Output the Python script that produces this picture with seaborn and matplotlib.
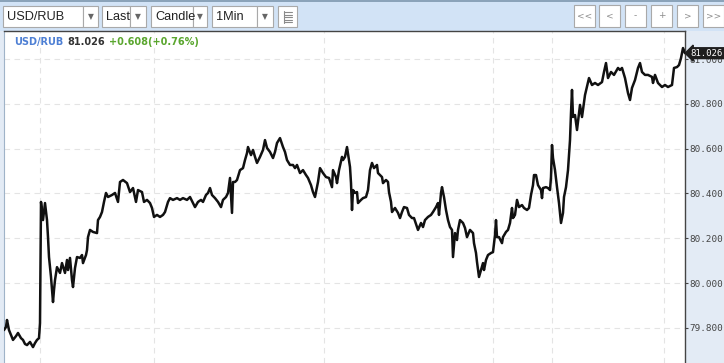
import matplotlib
matplotlib.use("Agg")
import matplotlib.pyplot as plt
import matplotlib.transforms as mtransforms
from matplotlib.patches import Rectangle
from matplotlib.lines import Line2D
import seaborn as sns
import pandas as pd

# ---------------- data ----------------
minute = [0, 2, 3, 5, 7, 9, 12, 14, 17, 19, 21, 23, 26, 29, 31, 33, 35, 36, 37, 39,
          41, 43, 44, 45, 47, 49, 50, 51, 53, 56, 58, 61, 63, 64, 66, 68, 69, 71, 73, 76,
          78, 79, 82, 83, 84, 86, 89, 93, 94, 96, 98, 100, 102, 104, 108, 111, 114, 116, 119, 123,
          126, 129, 132, 134, 138, 140, 143, 146, 148, 150, 153, 156, 159, 161, 164, 166, 169, 173, 176, 179,
          183, 186, 189, 191, 194, 197, 199, 202, 204, 206, 208, 211, 214, 217, 219, 222, 224, 226, 228, 229,
          231, 233, 236, 239, 241, 243, 244, 247, 249, 251, 253, 256, 259, 261, 263, 266, 269, 271, 273, 276,
          279, 281, 283, 286, 289, 291, 293, 296, 299, 302, 304, 307, 309, 311, 313, 314, 316, 319, 322, 325,
          328, 329, 332, 333, 335, 338, 339, 341, 343, 345, 346, 347, 348, 349, 351, 353, 354, 357, 359, 362,
          364, 366, 368, 370, 373, 374, 378, 379, 382, 384, 385, 387, 388, 391, 394, 396, 398, 400, 403, 405,
          408, 410, 413, 414, 417, 419, 421, 424, 427, 429, 432, 434, 435, 437, 438, 440, 442, 444, 446, 448,
          449, 451, 453, 454, 456, 459, 461, 463, 466, 469, 470, 472, 473, 475, 477, 479, 480, 482, 484, 487,
          489, 491, 492, 493, 495, 498, 499, 502, 504, 506, 508, 509, 511, 513, 515, 518, 520, 523, 525, 527,
          529, 530, 532, 534, 537, 538, 539, 542, 544, 546, 547, 548, 549, 551, 553, 555, 557, 559, 560, 562,
          564, 566, 567, 568, 569, 571, 573, 576, 578, 581, 584, 585, 588, 591, 594, 598, 600, 602, 604, 607,
          610, 614, 616, 618, 621, 623, 624, 626, 628, 631, 634, 636, 638, 641, 644, 648, 649, 651, 654, 658,
          661, 664, 668, 670, 673, 675, 677, 679, 681]

price = [79.790, 79.804, 79.835, 79.790, 79.768, 79.746, 79.763, 79.777, 79.754, 79.746,
         79.728, 79.723, 79.737, 79.714, 79.732, 79.746, 79.754, 79.821, 80.362, 80.281,
         80.357, 80.281, 80.205, 80.116, 80.027, 79.915, 79.969, 80.013, 80.071, 80.045,
         80.089, 80.045, 80.103, 80.058, 80.112, 80.013, 79.982, 80.067, 80.116, 80.112,
         80.125, 80.089, 80.125, 80.147, 80.205, 80.237, 80.228, 80.223, 80.281, 80.295,
         80.317, 80.362, 80.402, 80.384, 80.393, 80.402, 80.362, 80.451, 80.460, 80.446,
         80.406, 80.424, 80.362, 80.415, 80.406, 80.362, 80.371, 80.357, 80.335, 80.295,
         80.304, 80.295, 80.304, 80.317, 80.362, 80.379, 80.371, 80.379, 80.371, 80.379,
         80.371, 80.384, 80.357, 80.339, 80.362, 80.371, 80.362, 80.393, 80.402, 80.424,
         80.393, 80.379, 80.362, 80.339, 80.371, 80.384, 80.402, 80.469, 80.313, 80.451,
         80.451, 80.460, 80.504, 80.513, 80.549, 80.580, 80.607, 80.571, 80.594, 80.563,
         80.536, 80.563, 80.594, 80.638, 80.603, 80.585, 80.558, 80.585, 80.625, 80.647,
         80.607, 80.585, 80.549, 80.527, 80.527, 80.513, 80.527, 80.491, 80.504, 80.482,
         80.469, 80.437, 80.406, 80.384, 80.428, 80.451, 80.513, 80.491, 80.473, 80.469,
         80.428, 80.504, 80.473, 80.446, 80.504, 80.563, 80.549, 80.563, 80.607, 80.549,
         80.518, 80.446, 80.326, 80.415, 80.402, 80.406, 80.357, 80.371, 80.379, 80.384,
         80.415, 80.504, 80.536, 80.513, 80.527, 80.491, 80.473, 80.446, 80.460, 80.451,
         80.406, 80.362, 80.317, 80.335, 80.313, 80.290, 80.317, 80.339, 80.335, 80.304,
         80.290, 80.290, 80.250, 80.237, 80.268, 80.250, 80.281, 80.295, 80.304, 80.317,
         80.339, 80.357, 80.304, 80.402, 80.428, 80.384, 80.326, 80.281, 80.250, 80.237,
         80.116, 80.223, 80.192, 80.237, 80.281, 80.268, 80.246, 80.205, 80.237, 80.223,
         80.178, 80.134, 80.094, 80.027, 80.058, 80.089, 80.058, 80.103, 80.125, 80.134,
         80.138, 80.214, 80.281, 80.205, 80.205, 80.178, 80.205, 80.228, 80.237, 80.268,
         80.335, 80.290, 80.304, 80.371, 80.339, 80.348, 80.335, 80.326, 80.335, 80.393,
         80.437, 80.482, 80.482, 80.437, 80.415, 80.379, 80.424, 80.428, 80.424, 80.415,
         80.473, 80.616, 80.558, 80.504, 80.428, 80.357, 80.268, 80.313, 80.384, 80.428,
         80.504, 80.638, 80.759, 80.862, 80.741, 80.750, 80.683, 80.795, 80.741, 80.839,
         80.897, 80.915, 80.884, 80.893, 80.884, 80.897, 80.942, 80.982, 80.915, 80.942,
         80.929, 80.960, 80.951, 80.960, 80.915, 80.871, 80.848, 80.817, 80.871, 80.906,
         80.960, 80.982, 80.942, 80.929, 80.929, 80.920, 80.893, 80.929, 80.893, 80.875,
         80.884, 80.875, 80.884, 80.960, 80.964, 80.973, 81.004, 81.049, 81.026]

y_ticks = [79.8, 80.0, 80.2, 80.4, 80.6, 80.8, 81.0]
v_grid_minutes = [36, 150, 320, 489, 548, 660]
symbol = "USD/RUB"
last_price = "81.026"
change_text = "+0.608(+0.76%)"
toolbar_dropdowns = ["USD/RUB", "Last", "Candle", "1Min"]
nav_buttons = ["<<", "<", "-", "+", ">", ">>"]

# ---------------- figure ----------------
sns.set_theme(style="white")
plt.rcParams["font.family"] = ["DejaVu Sans"]

W, H = 724, 363
fig = plt.figure(figsize=(W / 100, H / 100), dpi=100, facecolor="#e3ebf5")


def fx(x):
    return x / W


def fy(y):
    return 1 - y / H


# toolbar band
fig.add_artist(Rectangle((0, fy(31)), 1, 31 / H, transform=fig.transFigure,
                         facecolor="#d2e3f6", edgecolor="none", zorder=0))
fig.add_artist(Line2D([0, 1], [fy(0.5), fy(0.5)], transform=fig.transFigure,
                      color="#7d97ad", lw=1.2))


def box(x0, x1, y0=6, y1=27, fc="white", ec="#a9a9a9"):
    fig.add_artist(Rectangle((fx(x0), fy(y1)), fx(x1) - fx(x0), (y1 - y0) / H,
                             transform=fig.transFigure, facecolor=fc, edgecolor=ec, lw=0.8))


dd_geom = [(3, 83, 98), (102, 130, 146), (151, 193, 207), (212, 257, 273)]
for label, (a, b, c) in zip(toolbar_dropdowns, dd_geom):
    box(a, b)
    box(b, c)
    fig.text(fx(a + 4), fy(16.5), label, fontsize=9.2, color="#222222",
             family="Liberation Sans", va="center", ha="left")
    fig.text(fx((b + c) / 2), fy(16.5), "\u25bc", fontsize=5.5, color="#666666",
             va="center", ha="center")
# list icon
box(278, 297)
for yy in [12, 14.5, 17, 19.5, 22]:
    fig.add_artist(Line2D([fx(284), fx(292)], [fy(yy), fy(yy)], transform=fig.transFigure,
                          color="#8a8a8a", lw=0.8))
fig.add_artist(Line2D([fx(284), fx(284)], [fy(11), fy(22.5)], transform=fig.transFigure,
                      color="#8a8a8a", lw=0.8))

nav_x = [574, 599, 625, 651, 677, 703]
for label, a in zip(nav_buttons, nav_x):
    box(a, a + 21, 5, 27)
    fig.text(fx(a + 10.5), fy(16), label, fontsize=6.5, color="#8c8c8c",
             va="center", ha="center")

# ---------------- chart panel ----------------
ax = fig.add_axes([fx(4), 0, (685 - 4) / W, 332 / H])
ax.set_facecolor("white")
df = pd.DataFrame({"minute": minute, "price": price})
sns.lineplot(data=df, x="minute", y="price", color="#111111", lw=1.8, ax=ax, zorder=3)

ax.set_xlim(0, 681)
ax.set_ylim(79.643, 81.125)
ax.set_xlabel("")
ax.set_ylabel("")
ax.set_xticks([])
ax.set_yticks(y_ticks)
ax.set_yticklabels([f"{v:.3f}" for v in y_ticks])
ax.yaxis.tick_right()
ax.tick_params(axis="y", direction="out", length=2.5, width=0.8, color="#444444",
               pad=0.6, labelsize=6.7, labelcolor="#444444")
for lab in ax.get_yticklabels():
    lab.set_family("DejaVu Sans Mono")

for v in y_ticks:
    ax.axhline(v, color="#e4e4e4", lw=0.8, ls=(0, (5, 4)), zorder=1)
for m in v_grid_minutes:
    ax.axvline(m, color="#e4e4e4", lw=0.8, ls=(0, (5, 4)), zorder=1)

for side in ["top", "right"]:
    ax.spines[side].set_color("#444444")
    ax.spines[side].set_linewidth(1.0)
ax.spines["left"].set_color("#9fb3c8")
ax.spines["left"].set_linewidth(0.8)
ax.spines["bottom"].set_visible(False)

# header text inside the panel
fig.text(fx(14), fy(42), symbol, fontsize=7, fontweight="bold", color="#4d7fd4",
         va="center", ha="left")
fig.text(fx(67), fy(42), last_price, fontsize=7, fontweight="bold", color="#333333",
         va="center", ha="left")
fig.text(fx(109), fy(42), change_text, fontsize=7, fontweight="bold", color="#5aa62e",
         va="center", ha="left")

# last price tag on the axis
trans = mtransforms.blended_transform_factory(ax.transAxes, ax.transData)
ax.text(1.0085, price[-1], last_price, transform=trans, fontsize=6.5,
        family="DejaVu Sans Mono", color="white", va="center", ha="left",
        clip_on=False, zorder=10,
        bbox=dict(boxstyle="larrow,pad=0.1", fc="#1e1e1e", ec="#1e1e1e"))

fig.savefig("out.png", dpi=100, facecolor=fig.get_facecolor())
